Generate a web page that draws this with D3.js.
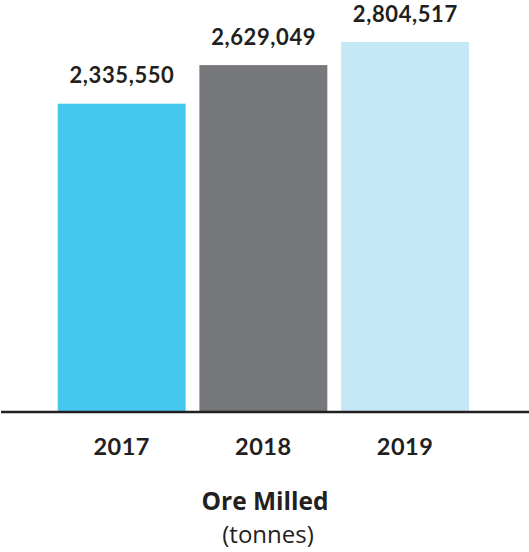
<!DOCTYPE html>
<html><head><meta charset="utf-8">
<script src="https://cdn.jsdelivr.net/npm/d3@7"></script>
<style>html,body{margin:0;padding:0;background:#fff;}svg{display:block;}</style>
</head><body>
<svg id="chart" width="529" height="552"></svg>
<script>
const categories = ["2017", "2018", "2019"];
const values = [2335550, 2629049, 2804517];
const colors = ["#45c8ee", "#77787b", "#c5e8f7"];
const title = "Ore Milled";
const subtitle = "(tonnes)";

const svg = d3.select("#chart");
const textColor = "#231f20";

const x = d3.scaleBand().domain(categories).range([57.7, 469]).paddingInner(0.097).paddingOuter(0);
const y = d3.scaleLinear().domain([0, d3.max(values)]).range([411, 42]);

const data = categories.map((c, i) => ({c, v: values[i], col: colors[i]}));

svg.selectAll("rect.bar").data(data).join("rect")
  .attr("class", "bar")
  .attr("x", d => x(d.c))
  .attr("width", x.bandwidth())
  .attr("y", d => y(d.v))
  .attr("height", d => y(0) - y(d.v))
  .attr("fill", d => d.col);

svg.selectAll("text.val").data(data).join("text")
  .attr("class", "val")
  .attr("x", d => x(d.c) + x.bandwidth() / 2 + 0.3)
  .attr("y", d => y(d.v) - 20.5)
  .attr("text-anchor", "middle")
  .attr("font-family", "Lato, sans-serif")
  .attr("font-weight", 700)
  .attr("font-size", 22)
  .attr("letter-spacing", 0.6)
  .attr("fill", textColor)
  .text(d => d3.format(",")(d.v));

// baseline axis
const axis = d3.axisBottom(x).tickSize(0).tickPadding(0);
const ax = svg.append("g").attr("transform", `translate(0,${y(0) + 1})`).call(axis);
ax.select(".domain").remove();
ax.append("line").attr("x1", 1).attr("x2", 529).attr("y1", 0).attr("y2", 0)
  .attr("stroke", textColor).attr("stroke-width", 2.6);
ax.selectAll(".tick text")
  .attr("dy", 0).attr("y", 43)
  .attr("font-family", "Lato, sans-serif")
  .attr("font-weight", 700)
  .attr("font-size", 23.5)
  .attr("letter-spacing", 0.5)
  .attr("fill", textColor);

svg.append("text").attr("x", 265).attr("y", 510)
  .attr("text-anchor", "middle")
  .attr("font-family", "'Open Sans', sans-serif")
  .attr("font-weight", 700).attr("font-size", 24.5)
  .attr("fill", textColor).text(title);
svg.append("text").attr("x", 268).attr("y", 543)
  .attr("text-anchor", "middle")
  .attr("font-family", "'Open Sans', sans-serif")
  .attr("font-weight", 400).attr("font-size", 24)
  .attr("fill", textColor).text(subtitle);
</script>
</body></html>
